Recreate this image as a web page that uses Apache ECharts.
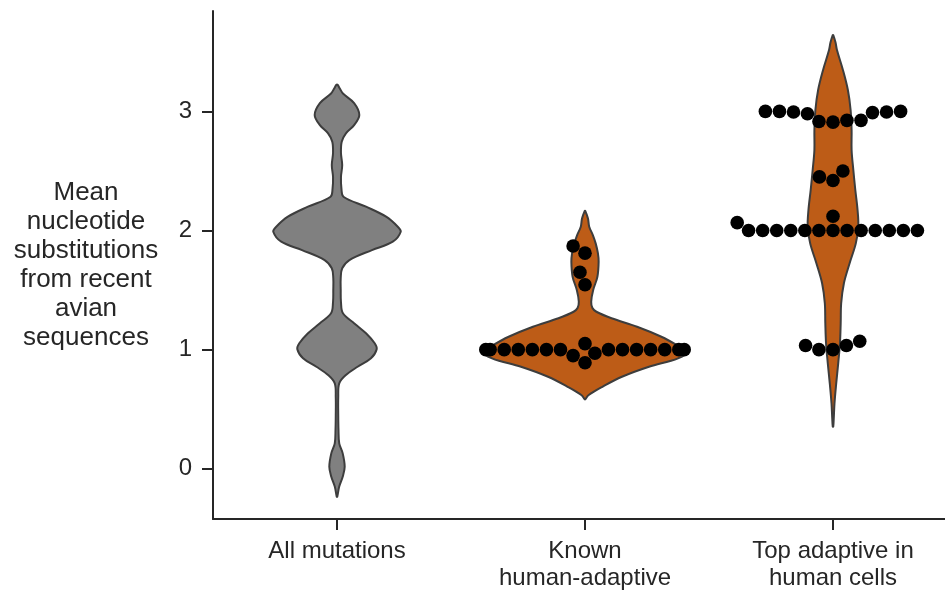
<!DOCTYPE html>
<html><head><meta charset="utf-8">
<script src="https://cdn.jsdelivr.net/npm/echarts@6/dist/echarts.min.js"></script>
<style>html,body{margin:0;padding:0;background:#fff}#c{width:945px;height:590px}</style>
</head><body><div id="c"></div>
<script>
// ---------- data ----------
const categories = ['All mutations', 'Known\nhuman-adaptive', 'Top adaptive in\nhuman cells'];
const yTicks = [0, 1, 2, 3];
const yMin = -0.422, yMax = 3.843;
const yAxisTitle = 'Mean\nnucleotide\nsubstitutions\nfrom recent\navian\nsequences';

// violin outlines: value levels and half-width (fraction of category width)
const allMutLevels = [3.225, 3.19, 3.15, 3.07, 2.97, 2.885, 2.816, 2.746, 2.65, 2.55, 2.45, 2.35, 2.284, 2.2, 2.116, 2.03, 1.99, 1.906, 1.836, 1.752, 1.683, 1.6, 1.5, 1.4, 1.305, 1.22, 1.137, 1.053, 1.003, 0.927, 0.856, 0.787, 0.717, 0.6, 0.45, 0.33, 0.213, 0.129, 0.017, -0.067, -0.15, -0.235];
const allMutWidths = [0.002, 0.012, 0.024, 0.069, 0.090, 0.069, 0.036, 0.019, 0.016, 0.021, 0.016, 0.018, 0.026, 0.117, 0.198, 0.246, 0.257, 0.225, 0.141, 0.050, 0.021, 0.015, 0.015, 0.016, 0.024, 0.070, 0.117, 0.152, 0.160, 0.137, 0.083, 0.036, 0.009, 0.005, 0.005, 0.006, 0.009, 0.023, 0.031, 0.023, 0.009, 0.001];

const knownLevels = [2.164, 2.10, 2.032, 1.96, 1.892, 1.81, 1.738, 1.612, 1.50, 1.402, 1.35, 1.318, 1.263, 1.192, 1.108, 1.039, 0.982, 0.927, 0.856, 0.772, 0.688, 0.619, 0.583];
const knownWidths = [0.001, 0.012, 0.017, 0.032, 0.043, 0.052, 0.055, 0.050, 0.033, 0.025, 0.030, 0.046, 0.107, 0.210, 0.308, 0.369, 0.409, 0.375, 0.258, 0.149, 0.070, 0.015, 0.001];

const topLevels = [3.641, 3.58, 3.515, 3.348, 3.18, 3.012, 2.844, 2.676, 2.508, 2.34, 2.172, 2.032, 1.892, 1.725, 1.557, 1.389, 1.221, 1.053, 0.885, 0.717, 0.549, 0.42, 0.353];
const topWidths = [0.001, 0.010, 0.016, 0.040, 0.060, 0.071, 0.075, 0.075, 0.082, 0.090, 0.099, 0.102, 0.092, 0.067, 0.044, 0.033, 0.031, 0.028, 0.021, 0.013, 0.006, 0.003, 0.001];

// individual mutations (swarm points)
const knownValues = [0.89, 0.95, 0.97, 1, 1, 1, 1, 1, 1, 1, 1, 1, 1, 1, 1, 1, 1, 1.05, 1.545, 1.65, 1.81, 1.87];
const topValues = [1.0, 1.0, 1.035, 1.035, 1.07,
  2, 2, 2, 2, 2, 2, 2, 2, 2, 2, 2, 2, 2, 2.066, 2.12,
  2.42, 2.45, 2.50,
  2.91, 2.915, 2.925, 2.925, 2.98, 2.99, 2.995, 2.995, 3.0, 3.0, 3.0];

// ---------- styling ----------
const INK = '#262626';
const FONT = '"Liberation Sans", Arial, Helvetica, sans-serif';
const violinColors = ['#808080', '#bd5c17', '#bd5c17'];
const profiles = [
  { levels: allMutLevels, widths: allMutWidths },
  { levels: knownLevels, widths: knownWidths },
  { levels: topLevels, widths: topWidths }
];
const DOT_R = 6.8, SWARM_R = 6.7;

const chart = echarts.init(document.getElementById('c'), null, { renderer: 'canvas' });

function violinItem(params, api) {
  const i = api.value(0);
  const prof = profiles[i];
  const band = api.size([1, 0])[0];
  const right = [], left = [];
  for (let k = 0; k < prof.levels.length; k++) {
    const p = api.coord([i, prof.levels[k]]);
    const w = prof.widths[k] * band;
    right.push([p[0] + w, p[1]]);
    left.push([p[0] - w, p[1]]);
  }
  const pts = right.concat(left.reverse());
  return {
    type: 'polygon',
    shape: { points: pts, smooth: 0.35 },
    style: { fill: violinColors[i], stroke: '#3d3d3d', lineWidth: 2 }
  };
}

function dotItem(params, api) {
  const p = api.coord([api.value(0), api.value(1)]);
  return { type: 'circle', shape: { cx: p[0] + api.value(2), cy: p[1], r: DOT_R }, style: { fill: '#000' } };
}

function swarmData(offsets) {
  const d = [];
  knownValues.forEach((v, k) => d.push([1, v, offsets ? offsets[1][k] : 0]));
  topValues.forEach((v, k) => d.push([2, v, offsets ? offsets[2][k] : 0]));
  return d;
}

const option = {
  animation: false,
  grid: { left: 213, top: 11, width: 744, height: 508, containLabel: false, outerBoundsMode: 'none' },
  xAxis: {
    type: 'category', data: categories, boundaryGap: true,
    axisLine: { show: true, onZero: false, lineStyle: { color: INK, width: 2 } },
    axisTick: { show: true, alignWithLabel: true, length: 11, lineStyle: { color: INK, width: 2 } },
    axisLabel: { fontSize: 24, color: INK, fontFamily: FONT, lineHeight: 27, margin: 19, interval: 0 },
    splitLine: { show: false }
  },
  yAxis: {
    type: 'value', min: yMin, max: yMax,
    name: yAxisTitle, nameLocation: 'middle', nameRotate: 0, nameGap: 127,
    nameTextStyle: { fontSize: 26, color: INK, fontFamily: FONT, lineHeight: 29, align: 'center', verticalAlign: 'middle' },
    axisLine: { show: true, onZero: false, lineStyle: { color: INK, width: 2 } },
    axisTick: { show: true, length: 11, customValues: yTicks, lineStyle: { color: INK, width: 2 } },
    axisLabel: { fontSize: 24, color: INK, fontFamily: FONT, margin: 21, customValues: yTicks },
    splitLine: { show: false }
  },
  series: [
    { type: 'custom', id: 'violins', renderItem: violinItem, data: [[0], [1], [2]], clip: false, z: 2 },
    { type: 'custom', id: 'swarm', renderItem: dotItem, data: swarmData(null), clip: false, z: 3 }
  ]
};
chart.setOption(option);

// seaborn-style beeswarm layout in pixel space
function beeswarm(values, catIndex) {
  const mid = chart.convertToPixel({ xAxisIndex: 0 }, catIndex);
  const band = Math.abs(chart.convertToPixel({ xAxisIndex: 0 }, 1) - chart.convertToPixel({ xAxisIndex: 0 }, 0));
  const pts = values.map((v, k) => ({ k, x: mid, y: -chart.convertToPixel({ yAxisIndex: 0 }, v), r: SWARM_R }));
  const sorted = pts.slice().sort((a, b) => a.y - b.y);
  const swarm = [sorted[0]];
  for (let i = 1; i < sorted.length; i++) {
    const p = sorted[i];
    const nb = [];
    for (let j = swarm.length - 1; j >= 0; j--) {
      const q = swarm[j];
      if (p.y - q.y < p.r + q.r) nb.push(q); else break;
    }
    nb.reverse();
    const cands = [p.x];
    let leftFirst = true;
    for (const q of nb) {
      const dy = p.y - q.y;
      const dx = Math.sqrt(Math.max((p.r + q.r) ** 2 - dy * dy, 0)) * 1.05;
      if (leftFirst) cands.push(q.x - dx, q.x + dx); else cands.push(q.x + dx, q.x - dx);
      leftFirst = !leftFirst;
    }
    const order = cands.map((c, idx) => ({ c, idx })).sort((a, b) => (Math.abs(a.c - mid) - Math.abs(b.c - mid)) || (a.idx - b.idx));
    let chosen = order[0].c;
    if (nb.length) {
      for (const o of order) {
        let ok = true;
        for (const q of nb) {
          const dx = q.x - o.c, dy = q.y - p.y;
          if (dx * dx + dy * dy < (q.r + p.r) ** 2 - 1e-9) { ok = false; break; }
        }
        if (ok) { chosen = o.c; break; }
      }
    }
    p.x = chosen;
    swarm.push(p);
  }
  const lim = band * 0.4;
  const off = new Array(values.length);
  pts.forEach(p => { let o = p.x - mid; o = Math.max(-lim, Math.min(lim, o)); off[p.k] = o; });
  return off;
}

const offsets = { 1: beeswarm(knownValues, 1), 2: beeswarm(topValues, 2) };
chart.setOption({ series: [{ id: 'violins' }, { id: 'swarm', data: swarmData(offsets) }] });
</script>
</body></html>
